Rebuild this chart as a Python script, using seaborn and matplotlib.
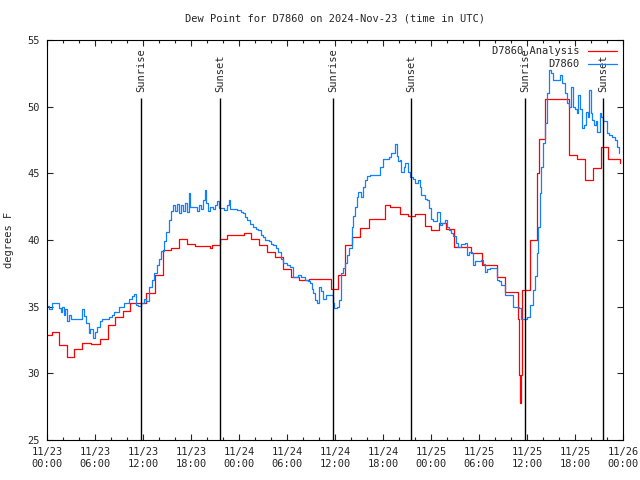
import pandas as pd
import numpy as np
import matplotlib
matplotlib.use("Agg")
import matplotlib.pyplot as plt
import matplotlib.dates as mdates
import seaborn as sns

# hours after 2024-11-23 00:00 UTC and dew point readings (deg F)
obs_hours = [0.0, 0.3, 0.6, 1.3, 1.5, 1.7, 1.9, 2.1, 2.3, 2.5, 2.8, 3.0, 4.2, 4.4, 4.6, 4.9,
             5.2, 5.4, 5.7, 6.0, 6.3, 6.6, 6.9, 7.7, 8.1, 8.4, 9.0, 9.6, 10.2, 10.6, 10.9, 11.1,
             11.4, 11.7, 12.1, 12.4, 12.75, 13.1, 13.4, 13.7, 14.0, 14.3, 14.6, 14.9, 15.25, 15.5,
             15.7, 16.0, 16.3, 16.5, 16.8, 17.0, 17.3, 17.5, 17.7, 17.9, 18.6, 18.8, 19.0, 19.3,
             19.5, 19.7, 19.9, 20.1, 20.4, 20.7, 21.0, 21.3, 21.5, 22.1, 22.5, 22.7, 22.9, 23.8,
             24.2, 24.5, 24.8, 25.0, 25.4, 25.8, 26.1, 26.4, 26.7, 27.0, 27.3, 27.7, 28.0, 28.3,
             28.6, 28.9, 29.2, 29.5, 30.0, 30.4, 30.8, 31.4, 31.8, 32.25, 32.6, 32.9, 33.1, 33.3,
             33.5, 33.7, 34.0, 34.2, 34.5, 34.9, 35.5, 35.7, 35.9, 36.2, 36.5, 36.8, 37.0, 37.25,
             37.5, 37.7, 38.1, 38.3, 38.5, 38.7, 38.9, 39.1, 39.3, 39.5, 39.75, 40.0, 40.4, 41.3,
             41.6, 42.0, 42.3, 42.7, 43.0, 43.3, 43.5, 43.7, 43.9, 44.1, 44.3, 44.6, 44.8, 45.1,
             45.4, 45.7, 46.0, 46.4, 46.6, 46.8, 47.2, 47.5, 47.8, 48.0, 48.3, 48.7, 49.1, 49.4,
             49.75, 50.0, 50.2, 50.5, 50.8, 51.1, 51.4, 51.8, 52.25, 52.5, 52.8, 53.1, 53.3, 53.5,
             54.2, 54.5, 54.75, 55.0, 55.4, 56.0, 56.2, 56.5, 56.8, 57.25, 58.1, 58.3, 59.0, 59.3,
             60.0, 60.4, 60.8, 61.0, 61.2, 61.4, 61.6, 61.8, 62.0, 62.2, 62.5, 62.8, 63.0, 63.3,
             63.8, 64.1, 64.4, 64.75, 65.0, 65.2, 65.5, 65.75, 66.0, 66.2, 66.4, 66.6, 66.9, 67.1,
             67.4, 67.6, 67.8, 68.0, 68.1, 68.4, 68.6, 68.8, 69.1, 69.3, 69.5, 69.95, 70.3, 70.6,
             71.0, 71.3, 71.5]
obs_values = [35.05, 34.8, 35.3, 35.3, 34.9, 34.6, 34.95, 34.4, 34.8, 33.9, 34.4, 34.1, 34.1, 34.8, 34.3, 33.8,
              33.0, 33.3, 32.65, 33.1, 33.5, 33.9, 34.05, 34.25, 34.4, 34.6, 35.0, 35.3, 35.6, 35.8, 35.95, 35.1,
              35.05, 35.3, 35.6, 35.4, 36.5, 37.0, 37.5, 38.1, 38.6, 39.2, 39.9, 40.6, 41.5, 42.2,
              42.6, 42.2, 42.7, 42.0, 42.6, 42.2, 42.8, 42.1, 43.5, 42.5, 42.5, 42.2, 42.6, 42.3,
              43.0, 43.75, 42.8, 42.2, 42.5, 42.3, 42.6, 42.95, 42.4, 42.25, 42.6, 43.0, 42.3, 42.25,
              42.1, 42.0, 41.7, 41.5, 41.2, 41.0, 40.8, 40.75, 40.4, 40.25, 40.0, 39.9, 39.7, 39.6,
              39.4, 39.1, 38.6, 38.25, 38.1, 38.0, 37.25, 37.4, 37.2, 37.0, 36.9, 36.75, 36.3, 36.0,
              35.5, 35.25, 36.5, 36.2, 35.6, 35.9, 35.9, 35.3, 34.9, 35.0, 35.5, 37.5, 37.9, 38.3,
              38.9, 39.4, 41.0, 41.8, 42.5, 43.2, 43.6, 43.6, 43.25, 44.0, 44.5, 44.8, 44.9, 44.9,
              45.5, 46.1, 46.1, 46.25, 46.5, 46.5, 47.2, 46.3, 45.9, 46.0, 45.1, 45.5, 45.75, 45.1,
              44.75, 44.6, 44.25, 44.5, 44.0, 43.4, 43.1, 43.0, 42.4, 41.6, 41.4, 42.1, 41.1, 41.3,
              41.5, 41.0, 40.75, 40.5, 40.3, 39.8, 39.5, 39.7, 39.75, 38.9, 39.1, 39.0, 38.1, 38.4,
              38.5, 38.2, 37.6, 37.8, 37.9, 37.9, 37.0, 36.9, 36.6, 35.9, 35.9, 35.0, 34.9, 34.1,
              34.25, 35.1, 36.25, 37.3, 39.0, 41.0, 43.5, 45.5, 47.25, 48.8, 51.0, 52.75, 52.5, 52.0,
              52.0, 52.4, 51.8, 51.0, 50.25, 50.0, 51.5, 50.0, 49.8, 49.5, 50.9, 49.8, 48.4, 48.6,
              49.6, 49.2, 51.25, 49.5, 49.0, 48.6, 48.9, 48.1, 49.5, 49.2, 48.9, 48.0, 47.9, 47.75,
              47.5, 47.0, 46.5]

ana_hours = [0.0, 0.6, 1.5, 2.5, 3.4, 4.4, 5.5, 6.6, 7.6, 8.5, 9.5, 10.4, 11.3, 12.4, 13.5, 14.5,
             15.5, 16.5, 17.5, 18.5, 20.4, 20.6, 21.6, 22.5, 24.6, 25.5, 26.5, 27.5, 28.5, 29.5,
             30.5, 31.5, 32.8, 35.5, 36.4, 37.3, 38.1, 39.1, 40.2, 41.2, 42.2, 42.9, 44.1, 45.1,
             46.0, 47.2, 48.0, 49.0, 49.9, 50.9, 53.0, 54.4, 56.3, 57.3, 58.9, 59.0, 59.1, 59.2,
             59.4, 60.4, 61.2, 61.5, 62.2, 65.3, 66.3, 67.3, 68.3, 69.3, 70.1, 71.6]
ana_values = [32.9, 33.1, 32.1, 31.2, 31.8, 32.3, 32.2, 32.55, 33.6, 34.2, 34.7, 35.25, 35.3, 36.0, 37.4, 39.25,
              39.4, 40.1, 39.7, 39.55, 39.4, 39.6, 40.05, 40.4, 40.5, 40.1, 39.6, 39.1, 38.75, 37.8,
              37.25, 37.0, 37.05, 36.3, 37.4, 39.6, 40.25, 40.9, 41.55, 41.6, 42.6, 42.45, 41.95, 41.8,
              41.95, 41.05, 40.75, 41.3, 40.8, 39.5, 39.0, 38.1, 37.25, 36.1, 34.1, 29.9, 27.75, 29.9,
              36.25, 40.0, 45.0, 47.6, 50.6, 46.4, 46.05, 44.5, 45.4, 46.95, 46.05, 45.8]

sun_labels = ["Sunrise", "Sunset", "Sunrise", "Sunset", "Sunrise", "Sunset"]
sun_times = ["2024-11-23 11:45", "2024-11-23 21:40", "2024-11-24 11:45",
             "2024-11-24 21:33", "2024-11-25 11:47", "2024-11-25 21:33"]

start = pd.Timestamp("2024-11-23 00:00")
df = pd.concat([
    pd.DataFrame({"time": start + pd.to_timedelta(ana_hours, unit="h"),
                  "value": ana_values, "series": "D7860 Analysis"}),
    pd.DataFrame({"time": start + pd.to_timedelta(obs_hours, unit="h"),
                  "value": obs_values, "series": "D7860"}),
], ignore_index=True)

sns.set_style("ticks")
plt.rcParams["font.family"] = ["DejaVu Sans Mono"]
plt.rcParams["font.size"] = 7

fig = plt.figure(figsize=(6.4, 4.8), dpi=100)
ax = fig.add_axes([0.0734, 0.0833, 0.9, 0.8333])

sns.lineplot(data=df, x="time", y="value", hue="series", estimator=None, sort=False,
             palette={"D7860 Analysis": "#ff0000", "D7860": "#1080ff"},
             drawstyle="steps-post", linewidth=0.9, ax=ax)

for label, t in zip(sun_labels, sun_times):
    t = pd.Timestamp(t)
    ax.vlines(t, 25, 50.65, color="black", linewidth=1.0)
    ax.text(t, 51.1, label, rotation=90, ha="center", va="bottom", fontsize=7.5)

ax.set_xlim(start, pd.Timestamp("2024-11-26 00:00"))
ax.set_ylim(25, 55)
ax.set_yticks(np.arange(25, 56, 5))
ax.xaxis.set_major_locator(mdates.HourLocator(byhour=[0, 6, 12, 18]))
ax.xaxis.set_minor_locator(mdates.HourLocator(interval=2))
ax.xaxis.set_major_formatter(mdates.DateFormatter("%m/%d\n%H:%M"))
ax.tick_params(which="both", direction="in", top=True, right=True, labelsize=7.5, width=0.8)
ax.tick_params(which="major", length=4.5, pad=5)
ax.tick_params(which="minor", length=2.5)
for s in ax.spines.values():
    s.set_linewidth(0.8)
    s.set_color("black")

ax.set_xlabel("")
ax.set_ylabel("degrees F", fontsize=7.5, labelpad=10)
ax.set_title("Dew Point for D7860 on 2024-Nov-23 (time in UTC)", fontsize=7.5, pad=13)

ax.legend(loc="upper right", frameon=False, markerfirst=False, handlelength=2.8,
          labelspacing=0.3, borderaxespad=0.2, fontsize=7.5, title=None)

fig.savefig("out.png", dpi=100)
